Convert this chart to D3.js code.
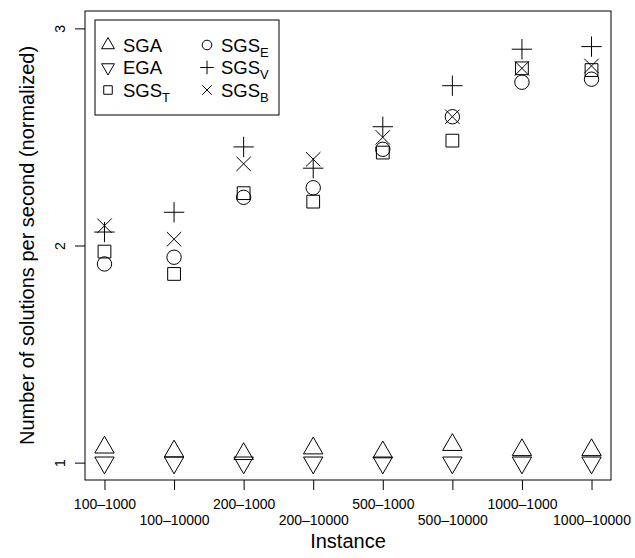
<!DOCTYPE html>
<html><head><meta charset="utf-8">
<script src="https://cdn.jsdelivr.net/npm/d3@7"></script>
<style>
body{margin:0;background:#fff}
svg{display:block}
text{font-family:"Liberation Sans",Arial,Helvetica,sans-serif;fill:#000}
</style>
</head><body><svg id="c" width="635" height="558"></svg>
<script>
// ---- data ----
const categories = ["100\u20131000","100\u201310000","200\u20131000","200\u201310000","500\u20131000","500\u201310000","1000\u20131000","1000\u201310000"];
const SGA   = [1.070, 1.052, 1.040, 1.066, 1.048, 1.082, 1.058, 1.058];
const EGA   = [1.000, 1.000, 1.000, 1.000, 1.000, 1.000, 1.000, 1.000];
const SGS_T = [1.972, 1.869, 2.241, 2.202, 2.428, 2.483, 2.816, 2.808];
const SGS_E = [1.915, 1.946, 2.222, 2.266, 2.443, 2.593, 2.752, 2.766];
const SGS_V = [2.062, 2.153, 2.454, 2.356, 2.547, 2.736, 2.904, 2.916];
const SGS_B = [2.091, 2.029, 2.376, 2.397, 2.498, 2.593, 2.816, 2.827];
const yTickValues = [1, 2, 3];
const xTitle = "Instance";
const yTitle = "Number of solutions per second (normalized)";

const series = [
  {base:"SGA", sub:"",  values:SGA,   shape:"triUp"},
  {base:"EGA", sub:"",  values:EGA,   shape:"triDown"},
  {base:"SGS", sub:"T", values:SGS_T, shape:"square"},
  {base:"SGS", sub:"E", values:SGS_E, shape:"circle"},
  {base:"SGS", sub:"V", values:SGS_V, shape:"plus"},
  {base:"SGS", sub:"B", values:SGS_B, shape:"cross"}
];

// ---- layout ----
const L = 85, R = 611, T = 11, B = 480;
const svg = d3.select("#c");
const x = d3.scaleLinear().domain([0.72, 8.28]).range([L, R]);
const y = d3.scaleLinear().domain([0.92, 3.08]).range([B, T]);
const ink = "#000";

function shapePath(type, r){
  const p = d3.path();
  if(type==="triUp"||type==="triDown"){
    const s = type==="triUp" ? 1 : -1;
    const rt = 1.5551*r, xc = 1.3468*r, yc = 0.7776*r;
    p.moveTo(0, -s*rt); p.lineTo(xc, s*yc); p.lineTo(-xc, s*yc); p.closePath();
  } else if(type==="square"){
    const h = 0.8862*r; p.rect(-h,-h,2*h,2*h);
  } else if(type==="circle"){
    p.arc(0,0,r,0,2*Math.PI); p.closePath();
  } else if(type==="plus"){
    const h = 1.4142*r; p.moveTo(-h,0); p.lineTo(h,0); p.moveTo(0,-h); p.lineTo(0,h);
  } else if(type==="cross"){
    const h = r; p.moveTo(-h,-h); p.lineTo(h,h); p.moveTo(-h,h); p.lineTo(h,-h);
  }
  return p.toString();
}

// points
const rPlot = 7.2;
series.forEach(s=>{
  svg.append("g").selectAll("path").data(s.values).join("path")
    .attr("transform",(v,i)=>`translate(${x(i+1)},${y(v)})`)
    .attr("d", shapePath(s.shape, rPlot))
    .attr("fill","none").attr("stroke",ink).attr("stroke-width",1);
});

// frame
svg.append("rect").attr("x",L).attr("y",T).attr("width",R-L).attr("height",B-T)
  .attr("fill","none").attr("stroke",ink).attr("stroke-width",1);

// y axis
const gy = svg.append("g").attr("transform",`translate(${L},0)`)
  .call(d3.axisLeft(y).tickValues(yTickValues).tickSize(10).tickFormat(d3.format("d")));
gy.select(".domain").remove();
gy.selectAll("line").attr("stroke",ink);
gy.selectAll("text").attr("x",0).attr("dy",0).attr("text-anchor","middle")
  .attr("transform","translate(-20,0) rotate(-90)")
  .style("font-size","14px").attr("fill",ink);

// x axis
const gx = svg.append("g").attr("transform",`translate(0,${B})`)
  .call(d3.axisBottom(x).tickValues(d3.range(1, categories.length+1)).tickSize(10)
    .tickFormat(d=>categories[d-1]));
gx.select(".domain").remove();
gx.selectAll("line").attr("stroke",ink);
gx.selectAll("text").attr("dy",0).attr("y",(d)=> (d%2===1) ? 29 : 45)
  .style("font-size","14px").attr("fill",ink);

// titles
svg.append("text").attr("x",(L+R)/2).attr("y",548).attr("text-anchor","middle")
  .style("font-size","20px").text(xTitle);
svg.append("text").attr("transform",`translate(34,${(T+B)/2}) rotate(-90)`)
  .attr("text-anchor","middle").style("font-size","20px").text(yTitle);

// legend
const lg = svg.append("g");
lg.append("rect").attr("x",95).attr("y",20).attr("width",184).attr("height",95)
  .attr("fill","#fff").attr("stroke",ink).attr("stroke-width",1);
const rowY = [45, 67.5, 90];
const colSym = [108, 207], colTxt = [123, 221];
const rLeg = 4.8;
series.forEach((s,i)=>{
  const c = Math.floor(i/3), r = i%3;
  lg.append("path").attr("transform",`translate(${colSym[c]},${rowY[r]})`)
    .attr("d", shapePath(s.shape, rLeg)).attr("fill","none").attr("stroke",ink).attr("stroke-width",1);
  const t = lg.append("text").attr("x",colTxt[c]).attr("y",rowY[r]+6.5).style("font-size","18.5px");
  t.append("tspan").text(s.base);
  if(s.sub) t.append("tspan").attr("dy",5).style("font-size","13px").text(s.sub);
});
</script>
</body></html>
